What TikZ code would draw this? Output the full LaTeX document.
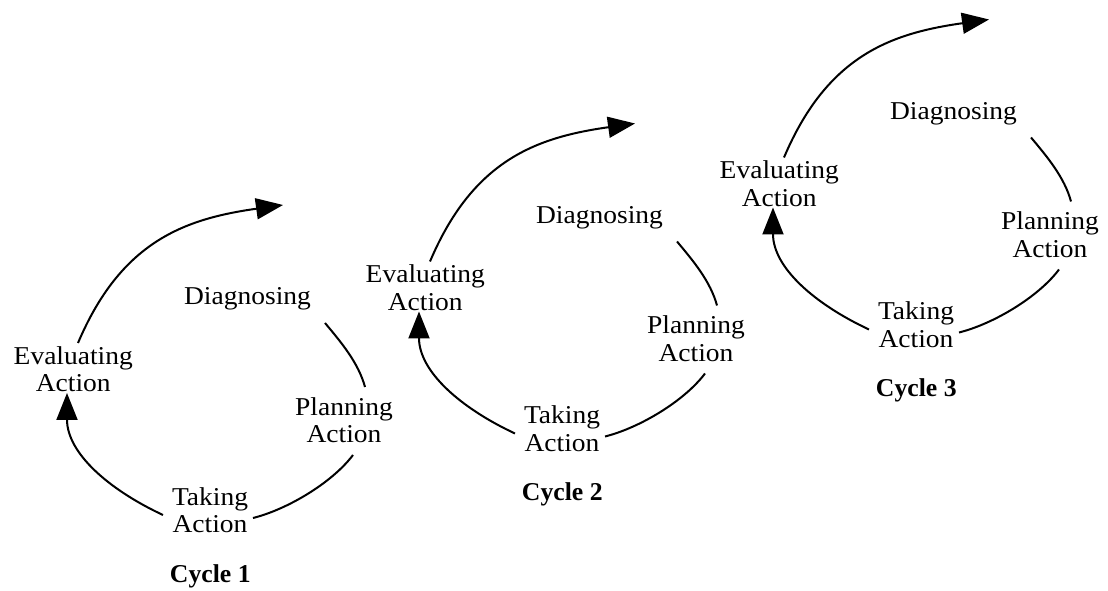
\documentclass[tikz,border=0pt]{standalone}
\usepackage{fontspec}
\setmainfont{Liberation Serif}[FakeStretch=1.07]
\newfontfamily\cyclefont{Liberation Serif}
\usetikzlibrary{arrows.meta}
\newcommand\drawcycle[4]{%
\begin{scope}[shift={(#2,#3)}]
  \node[lbl] (eval#1) at (73.3,221.7) {Evaluating\\Action};
  \node[lbl,anchor=base] (diag#1) at (247.5,286) {Diagnosing};
  \node[lbl] (plan#1) at (344,171) {Planning\\Action};
  \node[lbl] (take#1) at (210,81) {Taking\\Action};
  \node[cyc] (cyc#1) at (210.3,8.7) {Cycle #4};
  \coordinate (dps#1) at (325,268);
  \coordinate (dpe#1) at (365,204);
  \coordinate (pts#1) at (353,136);
  \coordinate (pte#1) at (253,73);
  \coordinate (tes#1) at (163,76);
  \coordinate (tee#1) at (67,198);
  \coordinate (eos#1) at (78,248);
  \coordinate (eoe#1) at (283,386);
  \draw[conn] (dps#1) .. controls (341.1,248.8) and (358.5,228.1) .. (dpe#1);
  \draw[conn] (pts#1) .. controls (331.9,108) and (287,81.5) .. (pte#1);
  \draw[arr] (tes#1) .. controls (108.6,101.4) and (67,138) .. (tee#1);
  \draw[arr] (eos#1) .. controls (120.9,349.2) and (184,372.1) .. (eoe#1);
\end{scope}}
\begin{document}
\begin{tikzpicture}[x=1pt,y=1pt,
  lbl/.style={align=center, inner sep=0pt, font=\fontsize{25.7}{27.5}\selectfont},
  cyc/.style={inner sep=0pt, anchor=base, font=\cyclefont\bfseries\fontsize{25.7}{27.5}\selectfont},
  conn/.style={line width=2pt},
  arr/.style={line width=2pt, -{Triangle[length=27pt,width=21pt]}}]
  \useasboundingbox[fill=white] (0,0) rectangle (1108,591);
  \drawcycle{a}{0}{0}{1}
  \drawcycle{b}{352}{81.5}{2}
  \drawcycle{c}{706}{185.5}{3}
\end{tikzpicture}
\end{document}
